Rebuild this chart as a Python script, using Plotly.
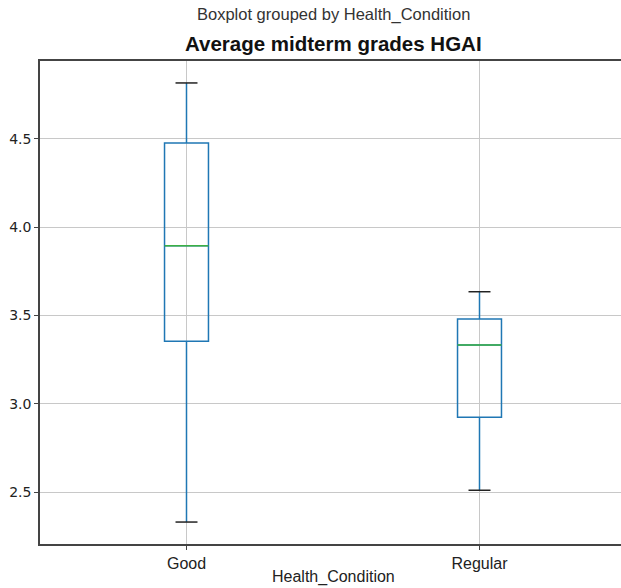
import plotly.graph_objects as go

# ---- data ----
categories = ["Good", "Regular"]
positions = [1, 2]
lower_whisker = [2.331, 2.511]
q1_values = [3.355, 2.925]
median_values = [3.895, 3.333]
q3_values = [4.477, 3.481]
upper_whisker = [4.817, 3.635]
y_tick_values = [2.5, 3.0, 3.5, 4.0, 4.5]
y_tick_labels = ["2.5", "3.0", "3.5", "4.0", "4.5"]

BLUE = "#1f77b4"
GREEN = "#3cb043"
BOX_W = 0.15
CAP_W = BOX_W / 2

fig = go.Figure()
for i, cat in enumerate(categories):
    p = positions[i]
    fig.add_trace(go.Box(
        x=[p], q1=[q1_values[i]], median=[median_values[i]], q3=[q3_values[i]],
        lowerfence=[lower_whisker[i]], upperfence=[upper_whisker[i]],
        width=BOX_W, whiskerwidth=0, boxpoints=False,
        line=dict(color=BLUE, width=1.5), fillcolor="rgba(0,0,0,0)",
        name=cat, showlegend=False, hoverinfo="skip",
    ))
    # median line
    fig.add_trace(go.Scatter(
        x=[p - BOX_W / 2, p + BOX_W / 2], y=[median_values[i]] * 2,
        mode="lines", line=dict(color=GREEN, width=1.5),
        showlegend=False, hoverinfo="skip",
    ))
    # caps
    for v in (lower_whisker[i], upper_whisker[i]):
        fig.add_trace(go.Scatter(
            x=[p - CAP_W / 2, p + CAP_W / 2], y=[v, v],
            mode="lines", line=dict(color="#222", width=1.5),
            showlegend=False, hoverinfo="skip",
        ))

L, T, B = 40, 61, 44
W, H = 621, 588
plot_h = H - T - B
unit_px = 293.0
x_max = 2.5 - (626 - W) / unit_px

ymin = min(lower_whisker)
ymax = max(upper_whisker)
pad = 0.05 * (ymax - ymin)

fig.update_layout(
    width=W, height=H,
    margin=dict(l=L, r=0, t=T, b=B, pad=0),
    paper_bgcolor="white", plot_bgcolor="white",
    font=dict(family="Liberation Sans, Arial, sans-serif", color="#222"),
    xaxis=dict(
        range=[0.5, x_max], tickvals=positions, ticktext=categories,
        showgrid=True, gridcolor="#c8c8c8", gridwidth=1,
        showline=True, linecolor="#444", linewidth=1.5, mirror=True,
        ticks="outside", ticklen=4, tickcolor="#444",
        tickfont=dict(size=16, family="Liberation Sans, Arial, sans-serif", color="#222"),
        zeroline=False, fixedrange=True,
    ),
    yaxis=dict(
        range=[ymin - pad, ymax + pad], tickvals=y_tick_values, ticktext=y_tick_labels,
        showgrid=True, gridcolor="#c8c8c8", gridwidth=1,
        showline=True, linecolor="#444", linewidth=1.5, mirror=False,
        ticks="outside", ticklen=4, tickcolor="#444",
        tickfont=dict(size=14, family="DejaVu Sans, sans-serif", color="#222"),
        zeroline=False, fixedrange=True,
    ),
    annotations=[
        dict(text="Boxplot grouped by Health_Condition", xref="x", yref="paper",
             x=1.5, y=1 + (T - 15) / plot_h, xanchor="center", yanchor="middle",
             showarrow=False, font=dict(size=16.5, color="#333")),
        dict(text="<b>Average midterm grades HGAI</b>", xref="x", yref="paper",
             x=1.5, y=1 + (T - 44) / plot_h, xanchor="center", yanchor="middle",
             showarrow=False, font=dict(size=20.5, color="#111")),
        dict(text="Health_Condition", xref="x", yref="paper",
             x=1.5, y=-(577 - (H - B)) / plot_h, xanchor="center", yanchor="middle",
             showarrow=False, font=dict(size=16, color="#222")),
    ],
)

fig.write_html("out.html")
